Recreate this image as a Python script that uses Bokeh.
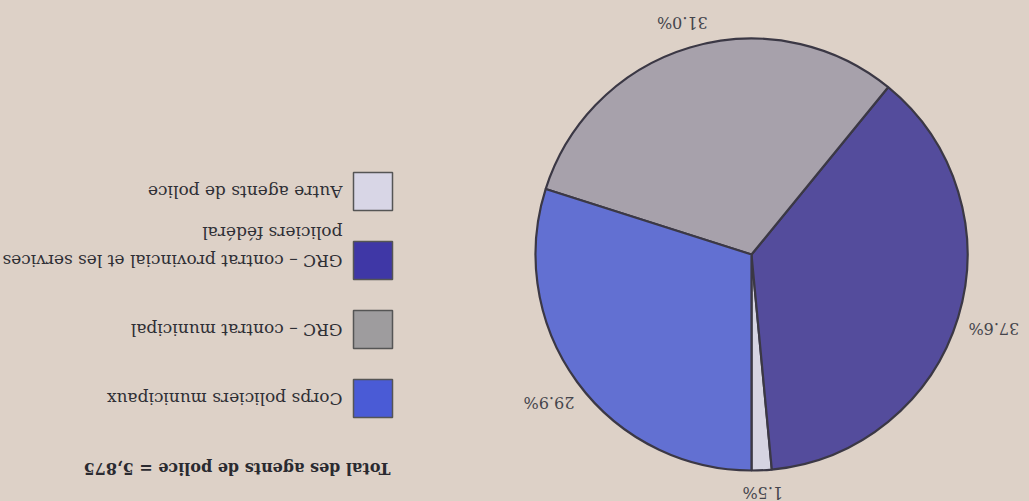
import math
from jinja2 import Template
from bokeh.plotting import figure
from bokeh.models import Range1d, ColumnDataSource
from bokeh.core.properties import value
from bokeh.embed import file_html
from bokeh.resources import INLINE

# ---- data (the scanned page is upside down, so everything is drawn rotated 180°) ----
categories = [
    "Corps policiers municipaux",
    "GRC – contrat municipal",
    "GRC – contrat provincial et les services\npoliciers fédéral",
    "Autre agents de police",
]
shares = [29.9, 31.0, 37.6, 1.5]
pct_labels = ["29.9%", "31.0%", "37.6%", "1.5%"]
title_text = "Total des agents de police = 5,875"

slice_colors = ["#6270d2", "#a7a1ab", "#544c9c", "#d6d4e2"]
swatch_colors = ["#4a5bd6", "#9e9c9e", "#3f37a6", "#d8d6e6"]

BG = "#ddd1c7"
W, H = 1029, 501
FONT = value("DejaVu Serif")

def Y(y_img):
    return H - y_img

p = figure(width=W, height=H, x_range=Range1d(0, W), y_range=Range1d(0, H),
           output_backend="svg", toolbar_location=None, min_border=0)
p.axis.visible = False
p.grid.visible = False
p.outline_line_color = None
p.background_fill_color = BG
p.border_fill_color = BG

# ---- pie ----
cx, cy, r = 751, Y(254), 216
order = list(reversed(range(len(shares))))  # drawn counter-clockwise from 270°
start = math.radians(270)
total = sum(shares)
starts, ends, cols, mids, labs = [], [], [], [], []
for i in order:
    span = 2 * math.pi * shares[i] / total
    starts.append(start)
    ends.append(start + span)
    cols.append(slice_colors[i])
    mids.append(start + span / 2)
    labs.append(pct_labels[i])
    start += span

src = ColumnDataSource(dict(x=[cx] * len(starts), y=[cy] * len(starts),
                            s=starts, e=ends, c=cols))
p.wedge(x="x", y="y", radius=r, start_angle="s", end_angle="e",
        fill_color="c", line_color="#3b3845", line_width=2.2, source=src)

def label_dist(m):
    return r + 22 + 16 * abs(math.cos(m))

lab_src = ColumnDataSource(dict(
    x=[cx + label_dist(m) * math.cos(m) for m in mids],
    y=[cy + label_dist(m) * math.sin(m) for m in mids],
    t=labs))
p.text(x="x", y="y", text="t", source=lab_src, angle=math.pi,
       text_align="center", text_baseline="middle", text_font=FONT,
       text_font_size="16px", text_color="#45454c")

# ---- legend (rotated) ----
sw_x = 372.5
sw_y = [Y(398 - 69 * i) for i in range(len(categories))]
p.rect(x=[sw_x] * len(categories), y=sw_y, width=39, height=38,
       fill_color=swatch_colors, line_color="#555555", line_width=1.5)

tx, ty, tt = [], [], []
for i, cat in enumerate(categories):
    for j, line in enumerate(cat.split("\n")):
        tx.append(342)
        ty.append(sw_y[i] + 28 * j)
        tt.append(line)
p.text(x=tx, y=ty, text=tt, angle=math.pi, text_align="left",
       text_baseline="middle", text_font=FONT, text_font_size="17px",
       text_color="#2f2f35")

p.text(x=[390], y=[Y(468)], text=[title_text], angle=math.pi, text_align="left",
       text_baseline="middle", text_font=FONT, text_font_size="16px",
       text_font_style="bold", text_color="#2a2a30")

page = Template("""{% extends base %}
{% block preamble %}<style>html,body{margin:0;padding:0;background:#ddd1c7;overflow:hidden;}</style>{% endblock %}""")

open("out.html", "w").write(file_html(p, INLINE, template=page))
